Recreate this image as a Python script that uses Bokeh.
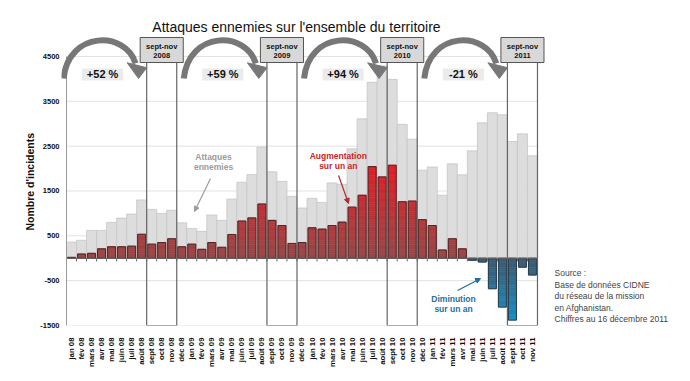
import math
from bokeh.plotting import figure
from bokeh.models import Range1d, FixedTicker, Arrow, NormalHead, Title
from bokeh.embed import file_html
from bokeh.resources import INLINE
from bokeh.core.properties import value

# ---------------- data ----------------
months = ["jan 08", "fév 08", "mars 08", "avr 08", "mai 08", "juin 08", "juil 08", "août 08",
          "sept 08", "oct 08", "nov 08", "déc 08",
          "jan 09", "fév 09", "mars 09", "avr 09", "mai 09", "juin 09", "juil 09", "août 09",
          "sept 09", "oct 09", "nov 09", "déc 09",
          "jan 10", "fév 10", "mars 10", "avr 10", "mai 10", "juin 10", "juil 10", "août 10",
          "sept 10", "oct 10", "nov 10", "déc 10",
          "jan 11", "fév 11", "mars 11", "avr 11", "mai 11", "juin 11", "juil 11", "août 11",
          "sept 11", "oct 11", "nov 11"]

attaques = [360, 400, 620, 620, 800, 895, 985, 1300, 1090, 1000, 1070, 790,
            665, 600, 965, 845, 1320, 1695, 1865, 2480, 1930, 1715, 1380, 1120,
            1335, 1245, 1680, 1650, 2440, 3110, 3925, 4290, 3990, 2985, 2655, 1965,
            2035, 1405, 2105, 1860, 2395, 3020, 3245, 3200, 2605, 2775, 2285]

variation = [20, 95, 110, 210, 255, 255, 270, 535, 315, 350, 435, 255,
             315, 200, 350, 245, 530, 830, 900, 1210, 845, 730, 330, 350,
             680, 650, 730, 805, 1140, 1405, 2045, 1815, 2075, 1260, 1275, 860,
             730, 185, 435, 210, -45, -85, -680, -1090, -1380, -200, -375]

periodes = ["sept-nov", "sept-nov", "sept-nov", "sept-nov"]
annees = ["2008", "2009", "2010", "2011"]
pourcentages = ["+52 %", "+59 %", "+94 %", "-21 %"]
oct_index = [months.index("oct 08"), months.index("oct 09"), months.index("oct 10"), months.index("oct 11")]

y_ticks = [-1500, -500, 500, 1500, 2500, 3500, 4500]

titre = "Attaques ennemies sur l'ensemble du territoire"
titre_y = "Nombre d'incidents"
source_lines = ["Source :", "Base de données CIDNE", "du réseau de la mission",
                "en Afghanistan.", "Chiffres au 16 décembre 2011"]

FONT = "Liberation Sans"

# ---------------- figure ----------------
n = len(months)
idx = list(range(n))

p = figure(width=690, height=381, x_range=Range1d(-1.0, 61.77), y_range=Range1d(-1500, 5749),
           output_backend="svg", toolbar_location=None,
           min_border_left=61, min_border_right=0, min_border_top=0, min_border_bottom=56)
p.outline_line_color = None
p.background_fill_color = "white"
p.border_fill_color = "white"
p.xgrid.visible = False
p.ygrid.visible = False

# x axis
p.xaxis.ticker = FixedTicker(ticks=idx)
p.xaxis.major_label_overrides = {i: m for i, m in enumerate(months)}
p.xaxis.major_label_orientation = math.pi / 2
p.xaxis.axis_line_color = None
p.xaxis.major_tick_line_color = None
p.xaxis.minor_tick_line_color = None
p.xaxis.major_label_text_font = FONT
p.xaxis.major_label_text_font_style = "bold"
p.xaxis.major_label_text_font_size = "7.8px"
p.xaxis.major_label_text_color = "#111111"
p.xaxis.major_label_standoff = 6

# y axis
p.yaxis.ticker = FixedTicker(ticks=y_ticks)
p.yaxis.major_label_overrides = {t: str(t) for t in y_ticks}
p.yaxis.axis_line_color = None
p.yaxis.major_tick_line_color = None
p.yaxis.minor_tick_line_color = None
p.yaxis.major_tick_out = 0
p.yaxis.major_label_text_font = FONT
p.yaxis.major_label_text_font_style = "bold"
p.yaxis.major_label_text_font_size = "7.5px"
p.yaxis.major_label_text_color = "#111111"
p.yaxis.major_label_standoff = 2

# y axis title (left side panel)
p.add_layout(Title(text=titre_y, align="left", offset=95, standoff=4, text_font=FONT,
                   text_font_style="bold", text_font_size="10.5px", text_color="#111111"), "left")

# grid lines
p.segment(x0=[-0.5] * len(y_ticks), x1=[n - 0.5] * len(y_ticks), y0=y_ticks, y1=y_ticks,
          line_color="#e2e2e2", line_width=1)

# gray bars (total attacks)
p.vbar(x=idx, top=attaques, bottom=0, width=1.0, fill_color="#dddddd",
       line_color="#c6c6c6", line_width=0.8)

# gradient bars (variation)
def lerp(c0, c1, t):
    t = max(0.0, min(1.0, t))
    return "#%02x%02x%02x" % tuple(int(round(a + (b - a) * t)) for a, b in zip(c0, c1))

red0, red1 = (150, 72, 72), (228, 28, 36)
blue0, blue1 = (62, 88, 108), (20, 142, 198)
step = 50
L, R, B, T, C = [], [], [], [], []
for i, v in enumerate(variation):
    s = 1 if v >= 0 else -1
    a = 0
    while a < abs(v):
        b = min(a + step, abs(v))
        mid = (a + b) / 2
        col = lerp(red0, red1, mid / 2100) if s > 0 else lerp(blue0, blue1, mid / 1400)
        L.append(i - 0.4); R.append(i + 0.4); B.append(s * a); T.append(s * b); C.append(col)
        a = b
p.quad(left=L, right=R, bottom=B, top=T, fill_color=C, line_color=C, line_width=0.6)
outline_cols = ["#4a2828" if v >= 0 else "#2a3c4c" for v in variation]
p.vbar(x=idx, top=variation, bottom=0, width=0.8, fill_color=None,
       line_color=outline_cols, line_width=1)

# zero line with ticks
p.segment(x0=[-0.5], x1=[n - 0.5], y0=[0], y1=[0], line_color="#666666", line_width=1)
bx = [i - 0.5 for i in range(n + 1)]
p.segment(x0=bx, x1=bx, y0=[0] * len(bx), y1=[-70] * len(bx), line_color="#666666", line_width=1)

# y axis line
p.segment(x0=[-0.5], x1=[-0.5], y0=[-1500], y1=[4500], line_color="#9a9a9a", line_width=1)

# period boxes
for k, c in enumerate(oct_index):
    p.segment(x0=[c - 1.5, c + 1.5, c - 1.5], x1=[c - 1.5, c + 1.5, c + 1.5],
              y0=[-1500, -1500, -1500], y1=[4366, 4366, -1500],
              line_color="#666666", line_width=1.2)
    p.quad(left=[c - 2.15], right=[c + 2.15], bottom=[4366], top=[4924],
           fill_color="#d8d8d8", line_color="#555555", line_width=1)
    p.text(x=[c, c], y=[4725, 4520], text=[periodes[k], annees[k]],
           text_align="center", text_baseline="middle", text_font=value(FONT),
           text_font_style="bold", text_font_size="7.5px", text_color="#111111")

    # big curved arrows
    base = c - 9
    p.bezier(x0=[base - 0.8], y0=[4009], x1=[base + 6.39], y1=[4344],
             cx0=[base - 0.3], cy0=[5080], cx1=[base + 5.39], cy1=[5080],
             line_color="#777777", line_width=6)
    p.patch(x=[base + 6.69, base + 5.55, base + 7.5], y=[4009, 4360, 4250],
            fill_color="#777777", line_color="#777777", line_width=1)

    # percentage boxes
    pc = base + 3.1
    p.quad(left=[pc - 2.05], right=[pc + 2.05], bottom=[3965], top=[4232],
           fill_color="#ebebeb", line_color=None)
    p.text(x=[pc], y=[4099], text=[pourcentages[k]], text_align="center",
           text_baseline="middle", text_font=value(FONT), text_font_style="bold",
           text_font_size="11px", text_color="#111111")

# annotation texts
def add_text(x, y, lines, color, size="8.5px", dy=225):
    p.text(x=[x] * len(lines), y=[y - j * dy for j in range(len(lines))], text=lines,
           text_align="center", text_baseline="middle", text_font=value(FONT),
           text_font_style="bold", text_font_size=size, text_color=color)

add_text(14.17, 2254, ["Attaques", "ennemies"], "#9c9c9c")
p.add_layout(Arrow(end=NormalHead(size=5, fill_color="#9c9c9c", line_color="#9c9c9c"),
                   x_start=13.87, y_start=1779, x_end=12.27, y_end=1043,
                   line_color="#9c9c9c", line_width=1.2))

add_text(26.62, 2276, ["Augmentation", "sur un an"], "#c8242b")
p.add_layout(Arrow(end=NormalHead(size=5, fill_color="#b02a2e", line_color="#b02a2e"),
                   x_start=26.65, y_start=1846, x_end=27.64, y_end=1221,
                   line_color="#b02a2e", line_width=1.2))

add_text(38.12, -898, ["Diminution", "sur un an"], "#1f6f9e")
p.add_layout(Arrow(end=NormalHead(size=5, fill_color="#1f6f9e", line_color="#1f6f9e"),
                   x_start=38.52, y_start=-719, x_end=40.82, y_end=-451,
                   line_color="#1f6f9e", line_width=1.2))

# title
p.text(x=[22.45], y=[5169], text=[titre], text_align="center", text_baseline="alphabetic",
       text_font=value(FONT), text_font_size="14px", text_color="#111111")

# source text
p.text(x=[48.2] * len(source_lines), y=[-340 - j * 256 for j in range(len(source_lines))],
       text=source_lines, text_align="left", text_baseline="middle",
       text_font=value(FONT), text_font_size="8.5px", text_color="#444444")

open("out.html", "w").write(file_html(p, INLINE))
